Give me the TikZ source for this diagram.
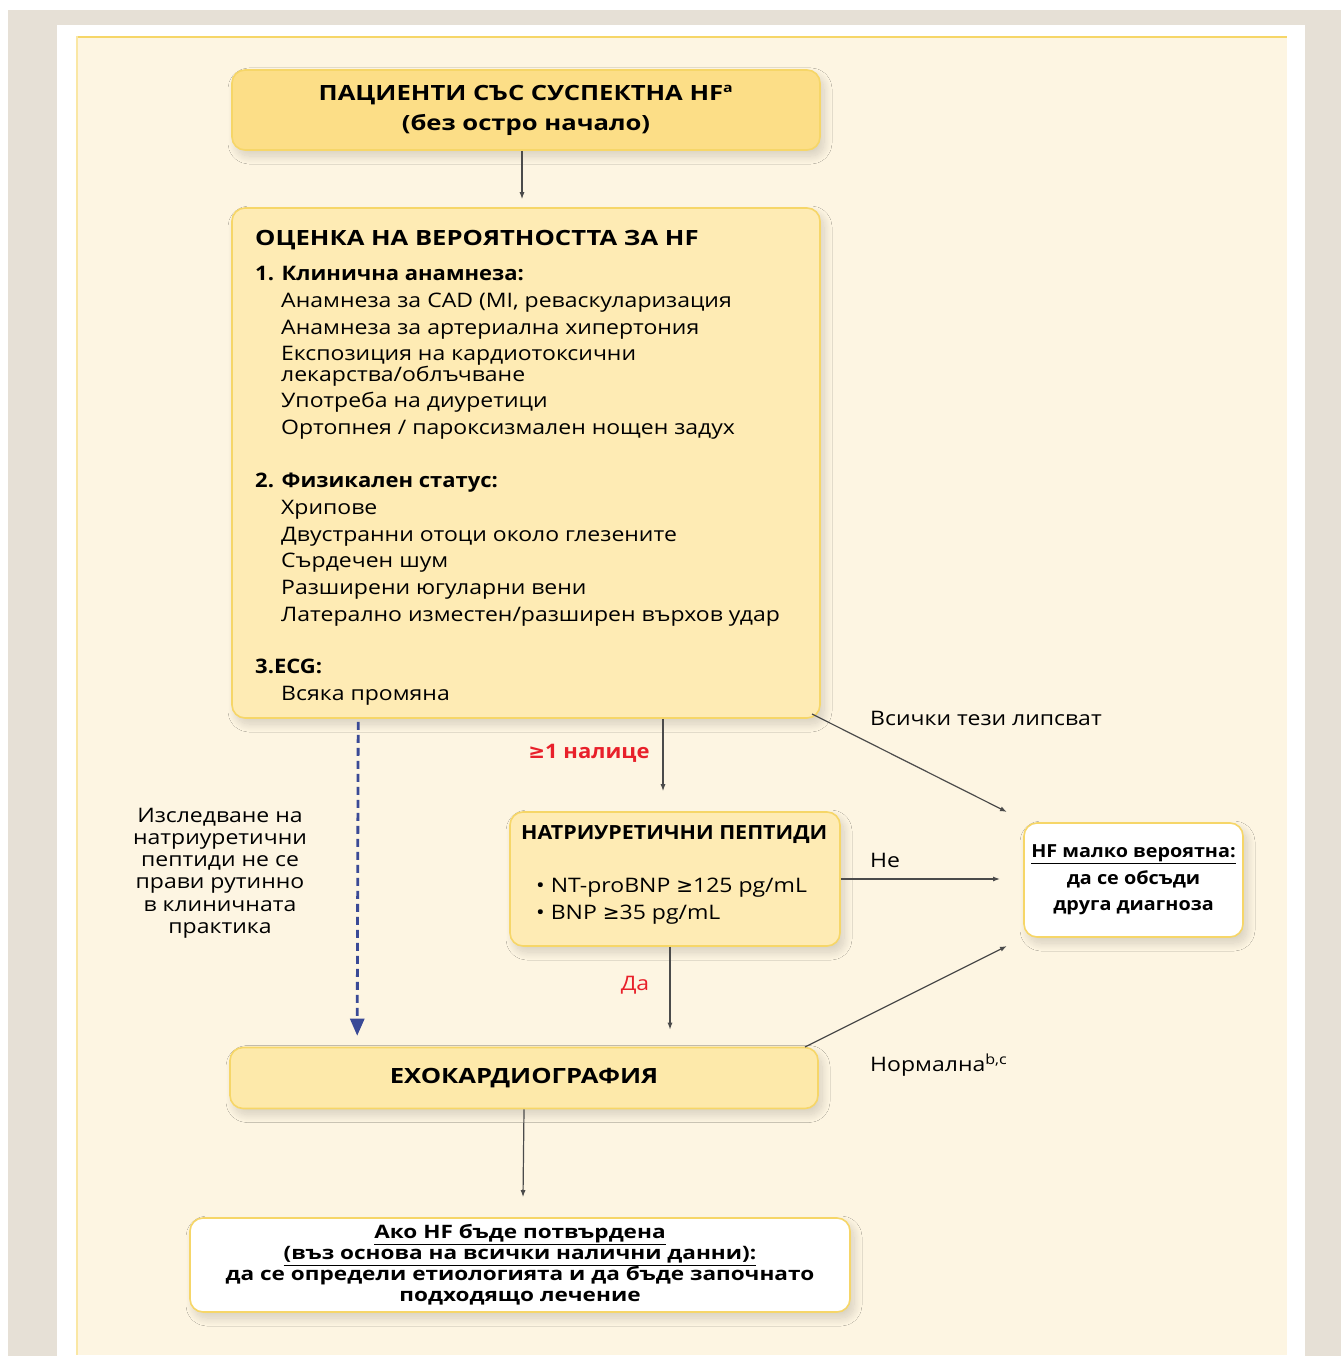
\documentclass[tikz,border=0pt]{standalone}
\usepackage{fontspec}
\setmainfont{Open Sans}[FakeStretch=1.15,BoldFeatures={FakeStretch=1.22}]
\newfontfamily\osmid{Open Sans}[FakeStretch=1.1]
\newfontfamily\dvs{DejaVu Sans}
\usetikzlibrary{arrows.meta,shadows.blur,calc}
\definecolor{outergray}{RGB}{230,224,214}
\definecolor{cream}{RGB}{253,245,226}
\definecolor{edgeyel}{RGB}{246,214,104}
\definecolor{topfill}{RGB}{252,222,135}
\definecolor{boxfill}{RGB}{254,235,180}
\definecolor{echofill}{RGB}{253,233,170}
\definecolor{linegray}{RGB}{75,75,75}
\definecolor{dashblue}{RGB}{58,74,150}
\definecolor{labred}{RGB}{232,32,42}
\newcommand{\gesym}{{\dvs ≥}}
\begin{document}
\begin{tikzpicture}[x=1pt,y=-1pt,
  fbox/.style={draw=edgeyel,line width=1.6pt,rounded corners=13pt,inner sep=0pt,
    blur shadow={shadow xshift=4pt,shadow yshift=-6pt,shadow opacity=16,shadow blur steps=20,shadow blur radius=8pt}},
  tx/.style={inner sep=0pt,anchor=base west,font=\fontsize{20}{25}\selectfont},
  txb/.style={inner sep=0pt,anchor=base west,font=\fontsize{20}{25}\selectfont\osmid\bfseries},
  conn/.style={draw=linegray,line width=1.2pt,-{Latex[length=7pt,width=5pt]}},
  lab/.style={inner sep=0pt,font=\fontsize{20}{25}\selectfont}]
% background
\useasboundingbox (0,0) rectangle (1341,1356);
\fill[white] (0,0) rectangle (1341,1356);
\fill[outergray] (8,10) rectangle (1341,1356);
\fill[white] (57,25) rectangle (1305,1356);
\fill[cream] (76,36) rectangle (1287,1355);
\draw[edgeyel,line width=2pt] (76,37) -- (1287,37);
\draw[edgeyel!60,line width=1.5pt] (77,36) -- (77,1355);

% boxes
\node[fbox,fill=topfill,minimum width=588pt,minimum height=80pt,align=center,
  font=\fontsize{21}{30}\selectfont\bfseries] (top) at (526,110)
  {ПАЦИЕНТИ СЪС СУСПЕКТНА HF\textsuperscript{\fontsize{13}{13}\selectfont a}\\(без остро начало)};
\node[fbox,fill=boxfill,minimum width=588pt,minimum height=510pt] (main) at (526,463) {};
\node[fbox,fill=boxfill,minimum width=330pt,minimum height=134pt] (np) at (675,879) {};
\node[fbox,fill=white,minimum width=219pt,minimum height=114pt,align=center,
  font=\fontsize{18}{26.5}\selectfont\osmid\bfseries] (unl) at (1133.5,880)
  {\underline{HF малко вероятна:}\\да се обсъди\\друга диагноза};
\node[fbox,fill=echofill,minimum width=588pt,minimum height=61pt,
  font=\fontsize{21}{26}\selectfont\bfseries] (echo) at (524,1078) {ЕХОКАРДИОГРАФИЯ};
\node[fbox,fill=white,minimum width=660pt,minimum height=94pt,align=center,
  font=\fontsize{18.5}{21}\selectfont\bfseries] (conf) at (520,1265)
  {\underline{Ако HF бъде потвърдена}\\\underline{(въз основа на всички налични данни):}\\да се определи етиологията и да бъде започнато\\подходящо лечение};

% main box text
\node[txb,font=\fontsize{21}{26}\selectfont\bfseries] (mt) at (255,245) {ОЦЕНКА НА ВЕРОЯТНОСТТА ЗА HF};
\node[txb] (s1) at (255,280) {1. Клинична анамнеза:};
\node[tx] (a1) at (281,307) {Анамнеза за CAD (MI, реваскуларизация};
\node[tx] (a2) at (281,334) {Анамнеза за артериална хипертония};
\node[tx] (a3) at (281,360) {Експозиция на кардиотоксични};
\node[tx] (a4) at (281,381) {лекарства/облъчване};
\node[tx] (a5) at (281,407) {Употреба на диуретици};
\node[tx] (a6) at (281,434) {Ортопнея / пароксизмален нощен задух};
\node[txb] (s2) at (255,487) {2. Физикален статус:};
\node[tx] (b1) at (281,514) {Хрипове};
\node[tx] (b2) at (281,541) {Двустранни отоци около глезените};
\node[tx] (b3) at (281,567) {Сърдечен шум};
\node[tx] (b4) at (281,594) {Разширени югуларни вени};
\node[tx] (b5) at (281,621) {Латерално изместен/разширен върхов удар};
\node[txb] (s3) at (255,673) {3.ECG:};
\node[tx] (c1) at (281,700) {Всяка промяна};

% NP box text
\node[txb,font=\fontsize{19.5}{24}\selectfont\osmid\bfseries] (npt) at (521,839) {НАТРИУРЕТИЧНИ ПЕПТИДИ};
\node[tx] (np1) at (536,892) {• NT-proBNP \gesym125 pg/mL};
\node[tx] (np2) at (536,919) {• BNP \gesym35 pg/mL};

% left note
\node[lab,align=center,font=\fontsize{20}{22.2}\selectfont] (note) at (220,873)
  {Изследване на\\натриуретични\\пептиди не се\\прави рутинно\\в клиничната\\практика};

% connector end points
\coordinate (t1) at (1007,812);
\coordinate (t2) at (1000,879);
\coordinate (t3) at (1007,946);
\coordinate (m1) at (812,714);
\coordinate (e1) at (805,1047);

% connectors
\draw[conn] ($(top.south)+(-4,0)$) -- ($(main.north)+(-4,-8)$);
\draw[conn] ($(main.south)+(137,0)$) -- ($(np.north)+(-12,-20)$);
\draw[conn] ($(np.south)+(-5,0)$) -- ($(echo.north)+(146,-17)$);
\draw[conn] (echo.south) -- ($(conf.north)+(3,-20)$);
\draw[conn] (m1) -- (t1);
\draw[conn] (np.east) -- (t2);
\draw[conn] (e1) -- (t3);
\draw[dashblue,line width=2.8pt,dash pattern=on 8pt off 5pt,-{Triangle[length=17pt,width=14pt]}]
  ($(main.south west)+(127,3)$) -- ($(echo.north west)+(128,-11)$);

% labels
\node[lab,font=\fontsize{20}{25}\selectfont\osmid\bfseries,text=labred] (l1) at (589,753) {\gesym1 налице};
\node[lab,text=labred] (l2) at (635,985) {Да};
\node[lab,anchor=west] (l3) at (870,718) {Всички тези липсват};
\node[lab,anchor=west] (l4) at (870,860) {Не};
\node[lab,anchor=west] (l5) at (870,1065) {Нормална\textsuperscript{b,c}};
\end{tikzpicture}
\end{document}
